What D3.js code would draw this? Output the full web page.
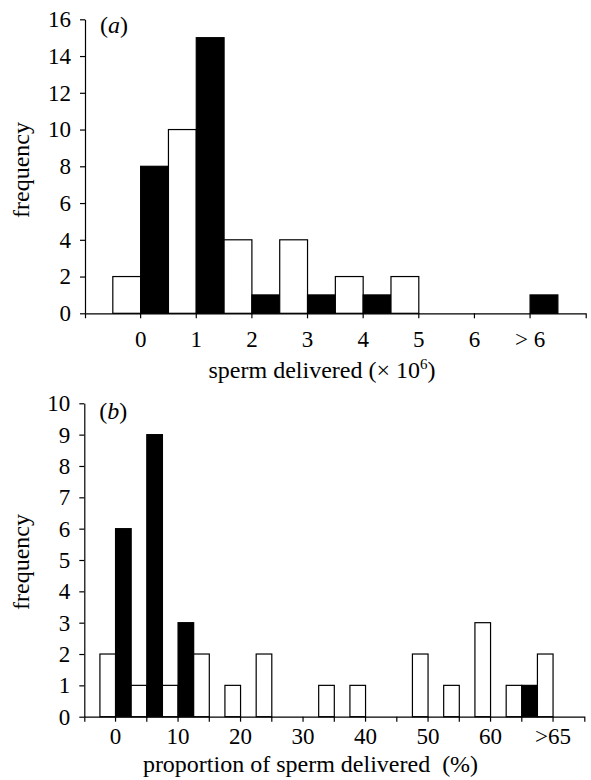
<!DOCTYPE html>
<html>
<head>
<meta charset="utf-8">
<script src="https://cdn.jsdelivr.net/npm/d3@7"></script>
<style>
  body { margin: 0; background: #fff; }
  svg { display: block; font-family: 'Liberation Serif', 'Times New Roman', serif; }
  .axis text { font-size: 23px; font-family: 'Liberation Serif', 'Times New Roman', serif; fill: #000; }
  .axis path, .axis line { stroke: #000; stroke-width: 1.2; }
  .title { font-size: 24px; fill: #000; }
</style>
</head>
<body>
<svg id="chart"></svg>
<script>
// panel (a): sperm delivered (x 10^6)
const sizeBins = ['0', '1', '2', '3', '4', '5', '6', '>6'];
const sizeWhite = [2, 10, 4, 4, 2, 2, 0, 0];
const sizeBlack = [8, 15, 1, 1, 1, 0, 0, 1];
const sizeYTicks = [0, 2, 4, 6, 8, 10, 12, 14, 16];

// panel (b): proportion of sperm delivered (%)
const propBins = ['0', '5', '10', '15', '20', '25', '30', '35', '40', '45', '50', '55', '60', '65', '>65'];
const propWhite = [2, 1, 1, 2, 1, 2, 0, 1, 1, 0, 2, 1, 3, 1, 2];
const propBlack = [6, 9, 3, 0, 0, 0, 0, 0, 0, 0, 0, 0, 0, 1, 0];
const propYTicks = [0, 1, 2, 3, 4, 5, 6, 7, 8, 9, 10];
const propLabels = ['0', '10', '20', '30', '40', '50', '60', '>65'];

const width = 591, height = 780;
const svg = d3.select('#chart').attr('width', width).attr('height', height);

function drawPanel(opts) {
  const x = d3.scaleBand()
    .domain(opts.bins)
    .range([opts.left, opts.right])
    .paddingInner(0)
    .paddingOuter(0.5);

  const sub = d3.scaleBand()
    .domain(['white', 'black'])
    .range([0, x.bandwidth()]);

  const y = d3.scaleLinear()
    .domain([0, d3.max(opts.yTicks)])
    .range([opts.bottom, opts.top]);

  const rows = [];
  opts.bins.forEach((b, i) => {
    if (opts.white[i] > 0) rows.push({ bin: b, kind: 'white', value: opts.white[i] });
    if (opts.black[i] > 0) rows.push({ bin: b, kind: 'black', value: opts.black[i] });
  });

  svg.append('g')
    .selectAll('rect')
    .data(rows)
    .join('rect')
      .attr('x', d => x(d.bin) + sub(d.kind))
      .attr('y', d => y(d.value))
      .attr('width', sub.bandwidth())
      .attr('height', d => y(0) - y(d.value))
      .attr('fill', d => d.kind === 'black' ? '#000' : '#fff')
      .attr('stroke', '#000')
      .attr('stroke-width', 1.2);

  svg.append('g')
    .attr('class', 'axis')
    .attr('transform', `translate(0,${y(0)})`)
    .call(d3.axisBottom(x)
      .tickSize(5)
      .tickSizeOuter(5)
      .tickPadding(opts.xPad)
      .tickFormat(d => opts.labels.includes(d) ? d.replace('>', '> ').replace('> 65', '>65') : ''));

  svg.append('g')
    .attr('class', 'axis')
    .attr('transform', `translate(${opts.left},0)`)
    .call(d3.axisLeft(y)
      .tickValues(opts.yTicks)
      .tickSize(5)
      .tickSizeOuter(0)
      .tickPadding(9));

  // panel letter
  const tag = svg.append('text')
    .attr('class', 'title')
    .attr('x', opts.left + 15)
    .attr('y', opts.tagY);
  tag.append('tspan').text('(');
  tag.append('tspan').style('font-style', 'italic').text(opts.tag);
  tag.append('tspan').text(')');

  svg.append('text')
    .attr('class', 'title')
    .attr('transform', `translate(29,${opts.yTitleY}) rotate(-90)`)
    .attr('text-anchor', 'middle')
    .text('frequency');

  return { x, y };
}

drawPanel({
  bins: sizeBins, white: sizeWhite, black: sizeBlack, yTicks: sizeYTicks,
  labels: sizeBins,
  left: 85, right: 585.7, top: 19.3, bottom: 313.3,
  xPad: 12, tag: 'a', tagY: 33, yTitleY: 170
});

drawPanel({
  bins: propBins, white: propWhite, black: propBlack, yTicks: propYTicks,
  labels: propLabels,
  left: 84.3, right: 584.3, top: 403.3, bottom: 716.7,
  xPad: 6, tag: 'b', tagY: 419, yTitleY: 562
});

// x titles
const t1 = svg.append('text')
  .attr('class', 'title')
  .attr('x', 322)
  .attr('y', 377.7)
  .attr('text-anchor', 'middle');
t1.append('tspan').text('sperm delivered (\u00d7 10');
t1.append('tspan').attr('dy', -9).style('font-size', '15px').text('6');
t1.append('tspan').attr('dy', 9).text(')');

svg.append('text')
  .attr('class', 'title')
  .attr('x', 310.5)
  .attr('y', 771.7)
  .attr('text-anchor', 'middle')
  .style('white-space', 'pre')
  .text('proportion of sperm delivered  (%)');
</script>
</body>
</html>
